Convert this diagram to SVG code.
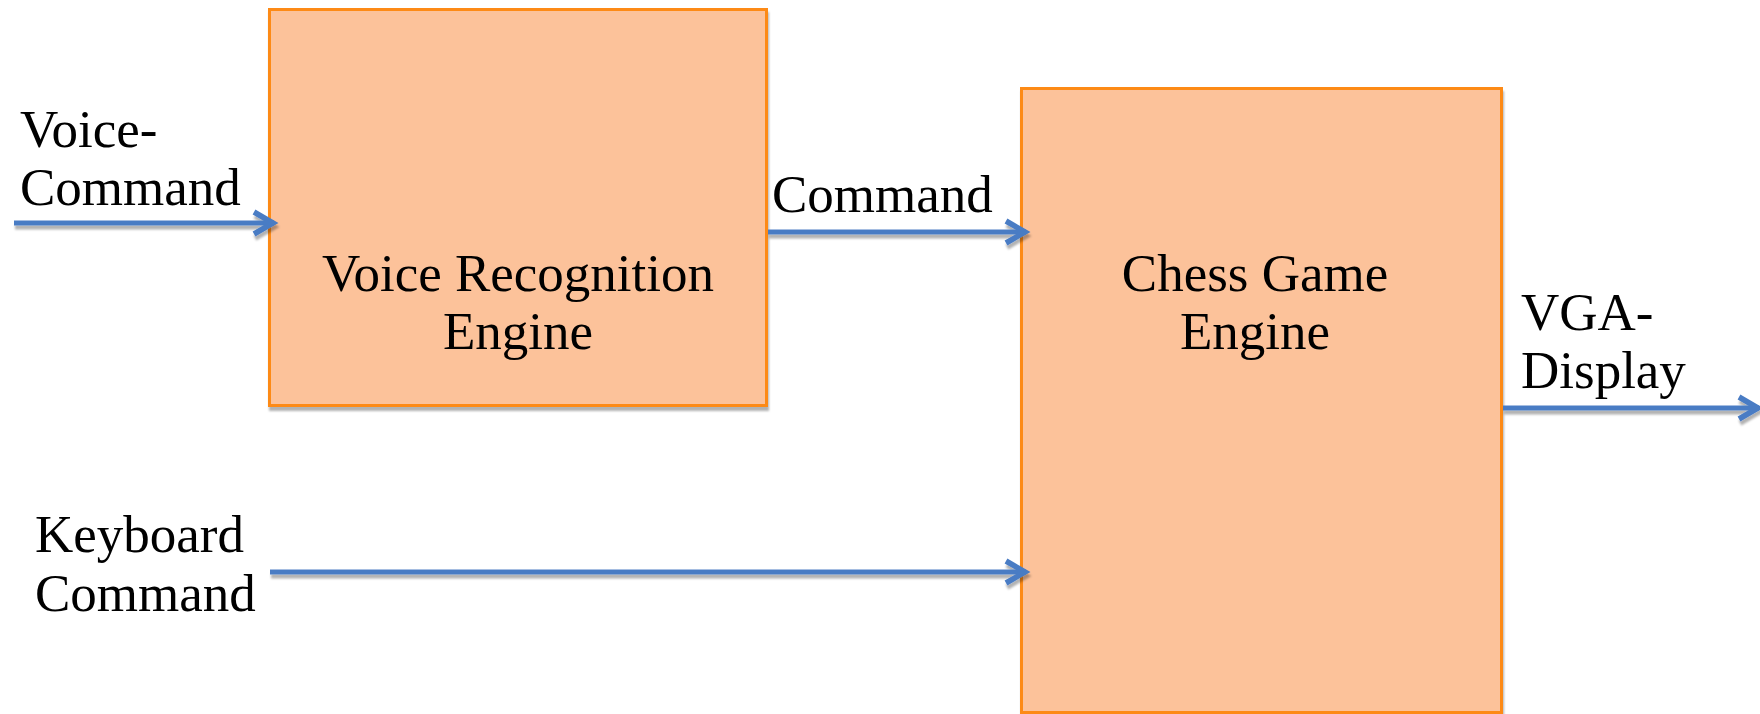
<svg xmlns="http://www.w3.org/2000/svg" width="1760" height="714" viewBox="0 0 1760 714">
  <defs>
    <style>
      .box { fill: #fcc29a; stroke: #fd8a17; stroke-width: 3; }
      .lbl { font-family: "Liberation Serif", "Times New Roman", serif; font-size: 53px; fill: #000; }
      .mid { text-anchor: middle; }
      .conn { stroke: #4a7cc4; stroke-width: 5; fill: none; }
    </style>
    <filter id="shadow" x="-5%" y="-20%" width="110%" height="140%">
      <feDropShadow dx="1" dy="4" stdDeviation="0.8" flood-color="#000" flood-opacity="0.3"/>
    </filter>
    <marker id="arrow" markerUnits="userSpaceOnUse" markerWidth="40" markerHeight="40" viewBox="-30 -20 40 40" refX="0" refY="0" orient="auto">
      <path d="M -20 -11 L -1 0 L -20 11" fill="none" stroke="#4a7cc4" stroke-width="5.5" stroke-linejoin="miter" stroke-linecap="butt"/>
    </marker>
  </defs>
  <rect width="1760" height="714" fill="#ffffff"/>

  <g id="voice-recognition-engine">
    <rect class="box" x="269.5" y="9.5" width="497" height="396" filter="url(#shadow)"/>
    <text class="lbl mid" x="518" y="291">Voice Recognition</text>
    <text class="lbl mid" x="518" y="349">Engine</text>
  </g>

  <g id="chess-game-engine">
    <rect class="box" x="1021.5" y="88.5" width="480" height="624" filter="url(#shadow)"/>
    <text class="lbl mid" x="1255" y="291">Chess Game</text>
    <text class="lbl mid" x="1255" y="349">Engine</text>
  </g>

  <g id="labels">
    <text class="lbl" x="20" y="147">Voice-</text>
    <text class="lbl" x="20" y="205">Command</text>
    <text class="lbl" x="772" y="212">Command</text>
    <text class="lbl" x="1521" y="330">VGA-</text>
    <text class="lbl" x="1521" y="388">Display</text>
    <text class="lbl" x="35" y="552">Keyboard</text>
    <text class="lbl" x="35" y="611">Command</text>
  </g>

  <g id="connectors" filter="url(#shadow)">
    <line class="conn" x1="14" y1="223" x2="274" y2="223" marker-end="url(#arrow)"/>
    <line class="conn" x1="768" y1="232" x2="1026" y2="232" marker-end="url(#arrow)"/>
    <line class="conn" x1="270" y1="572" x2="1026" y2="572" marker-end="url(#arrow)"/>
    <line class="conn" x1="1503" y1="408" x2="1759" y2="408" marker-end="url(#arrow)"/>
  </g>
</svg>
